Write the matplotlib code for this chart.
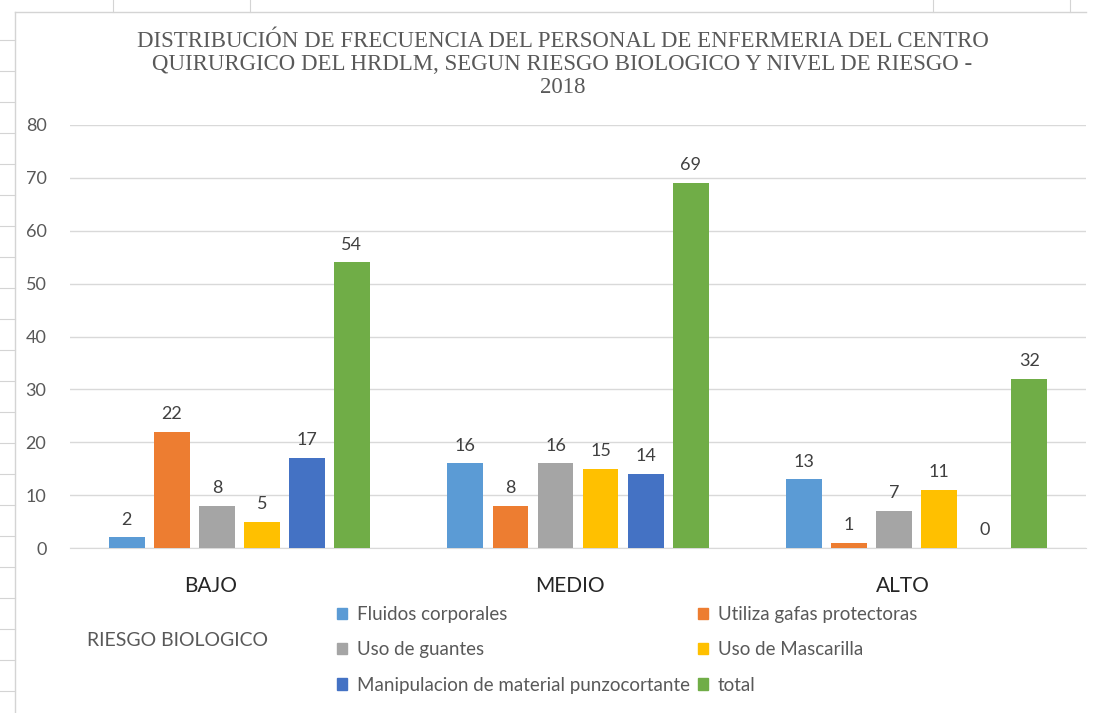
import matplotlib.pyplot as plt
import numpy as np
from matplotlib.lines import Line2D
from matplotlib.patches import Patch
from matplotlib.transforms import ScaledTranslation

# data
niveles = ['BAJO', 'MEDIO', 'ALTO']
series = ['Fluidos corporales', 'Utiliza gafas protectoras', 'Uso de guantes',
          'Uso de Mascarilla', 'Manipulacion de material punzocortante', 'total']
fluidos = [2, 16, 13]
gafas = [22, 8, 1]
guantes = [8, 16, 7]
mascarilla = [5, 15, 11]
punzocortante = [17, 14, 0]
total = [54, 69, 32]
valores = [fluidos, gafas, guantes, mascarilla, punzocortante, total]
colores = ['#5B9BD5', '#ED7D31', '#A5A5A5', '#FFC000', '#4472C4', '#70AD47']

titulo = ('DISTRIBUCIÓN DE FRECUENCIA DEL PERSONAL DE ENFERMERIA DEL CENTRO\n'
          'QUIRURGICO DEL HRDLM, SEGUN RIESGO BIOLOGICO Y NIVEL DE RIESGO -\n'
          '2018')

plt.rcParams['font.family'] = ['Lato', 'DejaVu Sans']
txt = '#595959'

fig = plt.figure(figsize=(11.01, 7.13), dpi=100)
ax = fig.add_axes([0.0636, 0.2314, 0.9228, 0.5933])

x = np.arange(len(niveles))
paso = 0.133
ancho = 0.106
for i, (nombre, vals, c) in enumerate(zip(series, valores, colores)):
    off = (i - 2.5) * paso
    bars = ax.bar(x + off, vals, ancho, color=c, label=nombre, zorder=3)
    ax.bar_label(bars, padding=7, fontsize=13, color='#404040')

ax.set_xlim(-0.5, 2.5)
ax.set_ylim(0, 80)
ax.set_yticks(range(0, 81, 10))
ax.yaxis.grid(True, color='#D9D9D9', linewidth=1, zorder=0)
for s in ['top', 'right', 'left']:
    ax.spines[s].set_visible(False)
ax.spines['bottom'].set_color('#D9D9D9')
ax.tick_params(axis='y', length=0, pad=17, labelsize=13, labelcolor=txt)
ax.tick_params(axis='x', length=0, pad=20, labelsize=15, labelcolor='#262626')
ax.set_xticks(x)
ax.set_xticklabels(niveles)
# the category labels sit a little left of their groups in the original
for lab, dx in zip(ax.get_xticklabels(), [-29, -8, -14]):
    lab.set_transform(lab.get_transform() + ScaledTranslation(dx / 100, 0, fig.dpi_scale_trans))

fig.text(0.511, 1 - 31 / 713, titulo, ha='center', va='top', fontsize=16.5,
         family='Liberation Serif', color=txt, linespacing=1.12)

fig.text(87 / 1101, 1 - 640 / 713, 'RIESGO BIOLOGICO', fontsize=14, color=txt, va='center')

# legend in Excel order (row major, two columns)
h = [Patch(color=c) for c in colores]
orden = [0, 2, 4, 1, 3, 5]
fig.legend([h[k] for k in orden], [series[k] for k in orden], ncol=2,
           loc='upper left', bbox_to_anchor=(337 / 1101, 1 - 606 / 713), frameon=False,
           fontsize=13.5, labelcolor=txt, handlelength=0.55, handleheight=0.55,
           handletextpad=0.5, columnspacing=0.45, labelspacing=0.98,
           borderaxespad=0, borderpad=0)

# sheet frame around the chart
grey = '#D4D4D4'
fig.add_artist(Line2D([15 / 1101, 15 / 1101], [0, 1 - 12 / 713], color=grey, lw=1))
fig.add_artist(Line2D([15 / 1101, 1086 / 1101], [1 - 12 / 713, 1 - 12 / 713], color=grey, lw=1))
for yy in range(40, 713, 31):
    fig.add_artist(Line2D([0, 15 / 1101], [1 - yy / 713, 1 - yy / 713], color=grey, lw=0.8))
for xx in [113, 250, 933, 1070]:
    fig.add_artist(Line2D([xx / 1101, xx / 1101], [1 - 12 / 713, 1], color=grey, lw=0.8))

fig.savefig('out.png', dpi=100)
